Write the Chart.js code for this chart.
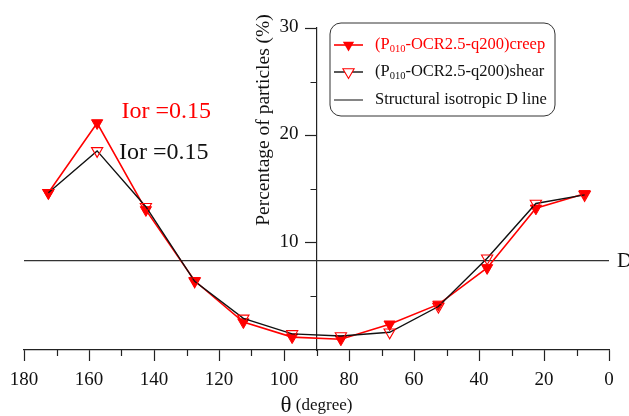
<!DOCTYPE html>
<html>
<head>
<meta charset="utf-8">
<script src="https://cdn.jsdelivr.net/npm/chart.js@4/dist/chart.umd.min.js"></script>
<style>
  html, body { margin: 0; padding: 0; background: #fff; }
  #wrap { width: 629px; height: 416px; }
</style>
</head>
<body>
<div id="wrap"><canvas id="c" width="629" height="416"></canvas></div>
<script>
// Orientation bins (degrees, bin centres) and particle percentages
const angles = [172.5, 157.5, 142.5, 127.5, 112.5, 97.5, 82.5, 67.5, 52.5, 37.5, 22.5, 7.5];
const creep  = [14.65, 21.15, 13.05, 6.45, 2.6, 1.2, 1.0, 2.4, 4.25, 7.65, 13.2, 14.55];
const shear  = [14.65, 18.55, 13.35, 6.4, 2.95, 1.5, 1.3, 1.65, 4.05, 8.55, 13.65, 14.45];
const isoD   = 100 / 12;           // isotropic share for 12 bins
const xMajor = [0, 20, 40, 60, 80, 100, 120, 140, 160, 180];
const xMinor = [10, 30, 50, 70, 90, 110, 130, 150, 170];
const yMajor = [10, 20, 30];
const yMinor = [5, 15, 25];
const iorCreep = 0.15;
const iorShear = 0.15;

const SERIF = "'Liberation Serif', 'Times New Roman', serif";
const AXIS = '#222';
const RED = '#ff0000';

const pts = vals => angles.map((a, i) => ({ x: a, y: vals[i] }));

const extras = {
  id: 'extras',
  afterDraw(chart) {
    const ctx = chart.ctx;
    const xs = chart.scales.x, ys = chart.scales.y;
    const yAxisX = xs.getPixelForValue(90);
    const bottom = chart.chartArea.bottom;
    ctx.save();
    ctx.strokeStyle = AXIS;
    ctx.lineWidth = 1.2;
    // minor ticks
    ctx.beginPath();
    xMinor.forEach(v => {
      const px = Math.round(xs.getPixelForValue(v)) + 0.5;
      ctx.moveTo(px, bottom); ctx.lineTo(px, bottom + 6);
    });
    yMinor.forEach(v => {
      const py = Math.round(ys.getPixelForValue(v)) + 0.5;
      ctx.moveTo(yAxisX, py); ctx.lineTo(yAxisX - 6, py);
    });
    ctx.stroke();

    // y tick labels, left of the tick marks
    ctx.fillStyle = '#111';
    ctx.font = '19px ' + SERIF;
    ctx.textAlign = 'right';
    ctx.textBaseline = 'middle';
    yMajor.forEach(v => ctx.fillText(String(v), yAxisX - 18, ys.getPixelForValue(v) - 1));

    // y title
    ctx.font = '19.5px ' + SERIF;
    ctx.textAlign = 'center';
    ctx.save();
    ctx.translate(yAxisX - 53, 120);
    ctx.rotate(-Math.PI / 2);
    ctx.fillText('Percentage of particles (%)', 0, 0);
    ctx.restore();

    // x title: θ (degree)
    ctx.textBaseline = 'alphabetic';
    ctx.textAlign = 'left';
    ctx.font = '23px ' + SERIF;
    const wTheta = ctx.measureText('θ').width;
    ctx.font = '17px ' + SERIF;
    const wRest = ctx.measureText(' (degree)').width;
    let tx = yAxisX - (wTheta + wRest) / 2;
    ctx.font = '23px ' + SERIF;
    ctx.fillText('θ', tx, 412);
    ctx.font = '17px ' + SERIF;
    ctx.fillText(' (degree)', tx + wTheta, 410);

    // D label at the end of the isotropic line
    ctx.font = '21px ' + SERIF;
    ctx.textBaseline = 'middle';
    ctx.fillText('D', chart.chartArea.right + 8, ys.getPixelForValue(isoD) + 1);

    // Ior annotations
    ctx.font = '24px ' + SERIF;
    ctx.fillStyle = RED;
    ctx.fillText('Ior =' + iorCreep.toFixed(2), xs.getPixelForValue(150), ys.getPixelForValue(22.2));
    ctx.fillStyle = '#111';
    ctx.fillText('Ior =' + iorShear.toFixed(2), xs.getPixelForValue(150.8), ys.getPixelForValue(18.4));

    // legend
    const bx = 330, by = 23, bw = 225, bh = 93, r = 11;
    ctx.beginPath();
    ctx.moveTo(bx + r, by);
    ctx.arcTo(bx + bw, by, bx + bw, by + bh, r);
    ctx.arcTo(bx + bw, by + bh, bx, by + bh, r);
    ctx.arcTo(bx, by + bh, bx, by, r);
    ctx.arcTo(bx, by, bx + bw, by, r);
    ctx.closePath();
    ctx.fillStyle = '#fff';
    ctx.fill();
    ctx.strokeStyle = '#333';
    ctx.lineWidth = 1;
    ctx.stroke();

    const rows = [45, 72, 100];
    const tri = (cx, cy, rad, fill, stroke) => {
      ctx.beginPath();
      ctx.moveTo(cx - rad * 0.866, cy - rad * 0.5);
      ctx.lineTo(cx + rad * 0.866, cy - rad * 0.5);
      ctx.lineTo(cx, cy + rad);
      ctx.closePath();
      if (fill) { ctx.fillStyle = fill; ctx.fill(); }
      if (stroke) { ctx.strokeStyle = stroke; ctx.lineWidth = 1.1; ctx.stroke(); }
    };
    // row 1
    ctx.strokeStyle = RED; ctx.lineWidth = 1.6;
    ctx.beginPath(); ctx.moveTo(334, rows[0]); ctx.lineTo(363, rows[0]); ctx.stroke();
    tri(348.5, rows[0], 6.5, RED, null);
    // row 2
    ctx.strokeStyle = '#111'; ctx.lineWidth = 1.4;
    ctx.beginPath(); ctx.moveTo(334, rows[1]); ctx.lineTo(363, rows[1]); ctx.stroke();
    tri(348.5, rows[1], 6.5, '#fff', RED);
    // row 3
    ctx.strokeStyle = '#333'; ctx.lineWidth = 1.2;
    ctx.beginPath(); ctx.moveTo(334, rows[2]); ctx.lineTo(363, rows[2]); ctx.stroke();

    const label = (y, color, tail) => {
      let x = 375;
      ctx.fillStyle = color;
      ctx.textAlign = 'left';
      ctx.textBaseline = 'middle';
      ctx.font = '16.5px ' + SERIF;
      ctx.fillText('(P', x, y); x += ctx.measureText('(P').width;
      ctx.font = '10.5px ' + SERIF;
      ctx.fillText('010', x, y + 4); x += ctx.measureText('010').width;
      ctx.font = '16.5px ' + SERIF;
      ctx.fillText('-OCR2.5-q200)' + tail, x, y);
    };
    label(rows[0], RED, 'creep');
    label(rows[1], '#111', 'shear');
    ctx.font = '16.5px ' + SERIF;
    ctx.fillStyle = '#111';
    ctx.fillText('Structural isotropic D line', 375, rows[2]);
    ctx.restore();
  }
};

new Chart(document.getElementById('c'), {
  type: 'scatter',
  data: {
    datasets: [
      {
        label: '(P010-OCR2.5-q200)creep',
        data: pts(creep),
        showLine: true,
        borderColor: RED,
        borderWidth: 1.6,
        pointStyle: 'triangle',
        rotation: 180,
        pointRadius: 6.5,
        pointBackgroundColor: RED,
        pointBorderColor: RED,
        pointBorderWidth: 1,
        order: 1
      },
      {
        label: '(P010-OCR2.5-q200)shear',
        data: pts(shear),
        showLine: true,
        borderColor: '#111',
        borderWidth: 1.4,
        pointStyle: 'triangle',
        rotation: 180,
        pointRadius: 6.5,
        pointBackgroundColor: 'rgba(255,255,255,0)',
        pointBorderColor: RED,
        pointBorderWidth: 1.1,
        order: 0
      },
      {
        label: 'Structural isotropic D line',
        data: [{ x: 0, y: isoD }, { x: 180, y: isoD }],
        showLine: true,
        borderColor: '#333',
        borderWidth: 1.2,
        pointRadius: 0,
        order: 2
      }
    ]
  },
  options: {
    responsive: false,
    devicePixelRatio: 1,
    animation: false,
    layout: { padding: { left: 24, right: 20, top: 28, bottom: 0 } },
    plugins: { legend: { display: false }, tooltip: { enabled: false } },
    scales: {
      x: {
        type: 'linear',
        reverse: true,
        min: 0, max: 180,
        afterBuildTicks: s => { s.ticks = xMajor.map(v => ({ value: v })); },
        afterFit: s => { s.height = 66; },
        border: { display: true, color: AXIS, width: 1.2 },
        grid: { drawOnChartArea: false, drawTicks: true, tickLength: 11, tickColor: AXIS, tickWidth: 1.2 },
        ticks: { font: { family: SERIF, size: 19 }, color: '#111', padding: 8, maxRotation: 0, autoSkip: false }
      },
      y: {
        type: 'linear',
        position: { x: 90 },
        min: 0, max: 30,
        afterBuildTicks: s => { s.ticks = yMajor.map(v => ({ value: v })); },
        border: { display: true, color: AXIS, width: 1.2 },
        grid: { drawOnChartArea: false, drawTicks: true, tickLength: 11, tickColor: AXIS, tickWidth: 1.2 },
        ticks: { display: false }
      }
    }
  },
  plugins: [extras]
});
</script>
</body>
</html>
